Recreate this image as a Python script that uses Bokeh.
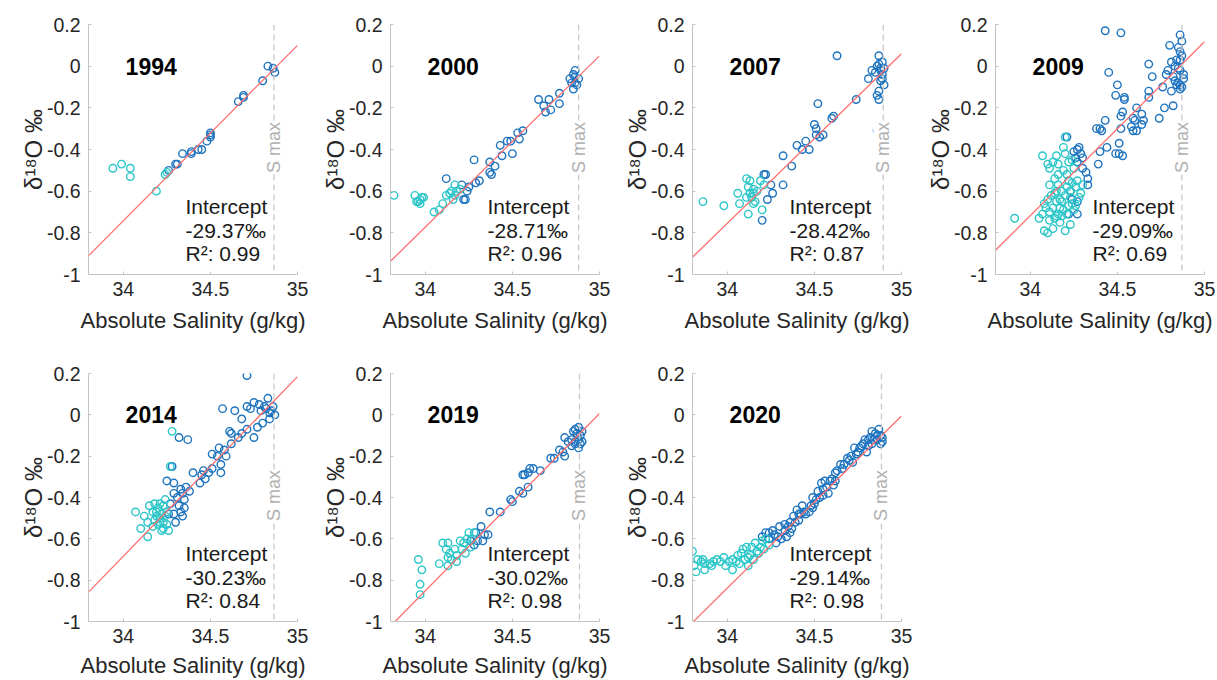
import numpy as np
from bokeh.plotting import figure
from bokeh.models import Span, Label, FixedTicker, CustomJSTickFormatter, Range1d
from bokeh.layouts import column, row
from bokeh.embed import file_html
from bokeh.resources import INLINE

# ---------------- data ----------------
years = ["1994", "2000", "2007", "2009", "2014", "2019", "2020"]
intercepts = [-29.37, -28.71, -28.42, -29.09, -30.23, -30.02, -29.14]
slopes = [0.842, 0.8217, 0.8137, 0.8345, 0.869, 0.8579, 0.8324]
r2 = [0.99, 0.96, 0.87, 0.69, 0.84, 0.98, 0.98]
s_max = [34.865, 34.88, 34.895, 34.87, 34.865, 34.885, 34.885]
x_ticks = [34, 34.5, 35]
y_ticks = [-1, -0.8, -0.6, -0.4, -0.2, 0, 0.2]

cyan_1994 = [(33.94, -0.49), (33.99, -0.47), (34.04, -0.49), (34.04, -0.53), (34.19, -0.60), (34.24, -0.52), (34.25, -0.51)]
blue_1994 = [(34.26, -0.50), (34.30, -0.47), (34.31, -0.47), (34.34, -0.42), (34.39, -0.41), (34.39, -0.42), (34.43, -0.40),
             (34.45, -0.40), (34.48, -0.36), (34.50, -0.32), (34.50, -0.33), (34.50, -0.34), (34.66, -0.17), (34.69, -0.14),
             (34.69, -0.15), (34.80, -0.07), (34.83, 0.00), (34.86, -0.01), (34.87, -0.03)]

cyan_2000 = [(33.82, -0.62), (33.94, -0.62), (33.95, -0.65), (33.96, -0.65), (33.97, -0.66), (33.98, -0.63), (33.99, -0.63),
             (33.97, -0.64), (34.05, -0.70), (34.08, -0.69), (34.10, -0.66), (34.12, -0.62), (34.14, -0.61), (34.15, -0.60),
             (34.16, -0.64), (34.17, -0.57), (34.18, -0.60), (34.20, -0.59), (34.17, -0.62)]
blue_2000 = [(34.12, -0.54), (34.21, -0.57), (34.22, -0.64), (34.23, -0.64), (34.24, -0.60), (34.25, -0.58), (34.28, -0.45),
             (34.29, -0.56), (34.31, -0.55), (34.37, -0.46), (34.37, -0.51), (34.38, -0.52), (34.40, -0.48), (34.43, -0.38),
             (34.44, -0.43), (34.47, -0.36), (34.49, -0.36), (34.50, -0.42), (34.53, -0.32), (34.54, -0.35), (34.56, -0.31),
             (34.65, -0.16), (34.68, -0.19), (34.69, -0.22), (34.71, -0.16), (34.72, -0.21), (34.77, -0.13), (34.77, -0.18),
             (34.83, -0.06), (34.84, -0.08), (34.85, -0.04), (34.85, -0.11), (34.86, -0.08), (34.86, -0.02), (34.86, -0.05),
             (34.87, -0.09), (34.88, -0.06)]

cyan_2007 = [(33.86, -0.65), (33.98, -0.67), (34.06, -0.61), (34.07, -0.66), (34.11, -0.54), (34.11, -0.63), (34.12, -0.71),
             (34.12, -0.58), (34.13, -0.61), (34.13, -0.55), (34.14, -0.63), (34.15, -0.59), (34.15, -0.61), (34.15, -0.66),
             (34.16, -0.65), (34.17, -0.60), (34.19, -0.55), (34.20, -0.69), (34.21, -0.57)]
blue_2007 = [(34.20, -0.74), (34.21, -0.52), (34.22, -0.52), (34.23, -0.64), (34.25, -0.57), (34.26, -0.61), (34.32, -0.57),
             (34.32, -0.43), (34.37, -0.48), (34.40, -0.38), (34.43, -0.40), (34.45, -0.36), (34.47, -0.40), (34.50, -0.28),
             (34.51, -0.30), (34.51, -0.33), (34.52, -0.18), (34.53, -0.34), (34.55, -0.33), (34.60, -0.25), (34.61, -0.24),
             (34.63, 0.05), (34.74, -0.16), (34.81, -0.06), (34.83, -0.02), (34.85, -0.03), (34.86, -0.31), (34.86, -0.14),
             (34.87, 0.05), (34.87, -0.12), (34.87, -0.16), (34.86, 0.00), (34.87, 0.01), (34.88, -0.01), (34.88, -0.02),
             (34.89, -0.04), (34.89, 0.02), (34.89, -0.06), (34.90, -0.09), (34.90, -0.01), (34.88, -0.07)]

cyan_2009 = [(33.91, -0.73), (34.07, -0.43), (34.10, -0.47), (34.11, -0.49), (34.11, -0.57), (34.08, -0.66), (34.05, -0.73),
             (34.08, -0.79), (34.10, -0.80), (34.13, -0.78), (34.15, -0.43), (34.16, -0.52), (34.14, -0.61), (34.16, -0.71),
             (34.17, -0.75), (34.20, -0.79), (34.18, -0.65), (34.19, -0.39), (34.20, -0.34), (34.20, -0.42), (34.21, -0.52),
             (34.22, -0.46), (34.23, -0.60), (34.24, -0.56), (34.24, -0.66), (34.25, -0.69), (34.26, -0.58), (34.28, -0.63),
             (34.29, -0.61), (34.30, -0.57), (34.13, -0.68), (34.11, -0.70), (34.15, -0.65), (34.15, -0.72), (34.17, -0.68),
             (34.19, -0.69), (34.21, -0.71), (34.22, -0.67), (34.14, -0.73), (34.07, -0.71), (34.11, -0.74), (34.25, -0.49),
             (34.14, -0.54), (34.16, -0.57), (34.20, -0.62), (34.23, -0.63), (34.12, -0.62), (34.18, -0.60), (34.09, -0.68),
             (34.17, -0.64), (34.22, -0.55), (34.19, -0.50), (34.13, -0.46), (34.24, -0.45), (34.21, -0.58), (34.18, -0.72),
             (34.10, -0.64), (34.15, -0.60), (34.27, -0.55), (34.26, -0.67), (34.23, -0.76), (34.16, -0.47)]
blue_2009 = [(34.43, 0.17), (34.52, 0.16), (34.86, 0.15), (34.87, 0.12), (34.80, 0.10), (34.85, 0.09), (34.68, 0.01),
             (34.81, 0.02), (34.84, 0.03), (34.86, 0.03), (34.83, 0.00), (34.79, -0.02), (34.85, -0.01), (34.86, -0.02),
             (34.45, -0.03), (34.70, -0.05), (34.78, -0.04), (34.82, -0.05), (34.83, -0.07), (34.85, -0.08), (34.86, -0.09),
             (34.86, -0.11), (34.84, -0.09), (34.50, -0.09), (34.76, -0.10), (34.81, -0.12), (34.68, -0.12), (34.49, -0.14),
             (34.54, -0.16), (34.54, -0.15), (34.68, -0.15), (34.61, -0.20), (34.82, -0.19), (34.77, -0.20), (34.53, -0.22),
             (34.52, -0.24), (34.64, -0.23), (34.65, -0.26), (34.59, -0.25), (34.60, -0.26), (34.74, -0.25), (34.43, -0.26),
             (34.38, -0.30), (34.40, -0.30), (34.41, -0.31), (34.52, -0.30), (34.58, -0.29), (34.59, -0.31), (34.61, -0.31),
             (34.64, -0.28), (34.21, -0.34), (34.44, -0.39), (34.49, -0.42), (34.51, -0.37), (34.51, -0.42), (34.53, -0.43),
             (34.40, -0.41), (34.39, -0.47), (34.87, -0.10), (34.88, -0.06), (34.87, 0.05), (34.88, -0.04), (34.86, 0.07),
             (34.29, -0.42), (34.30, -0.44), (34.30, -0.49), (34.28, -0.39), (34.27, -0.40), (34.26, -0.44), (34.27, -0.46),
             (34.25, -0.41), (34.33, -0.54), (34.33, -0.57), (34.27, -0.65), (34.27, -0.71), (34.23, -0.60), (34.22, -0.71),
             (34.24, -0.64), (34.32, -0.51)]

cyan_2014 = [(34.28, -0.08), (34.27, -0.25), (34.07, -0.47), (34.10, -0.55), (34.12, -0.49), (34.14, -0.59), (34.15, -0.44),
             (34.17, -0.47), (34.18, -0.51), (34.20, -0.53), (34.21, -0.43), (34.22, -0.48), (34.23, -0.52), (34.23, -0.44),
             (34.24, -0.49), (34.25, -0.53), (34.26, -0.56), (34.18, -0.43), (34.20, -0.45), (34.22, -0.56), (34.17, -0.54),
             (34.14, -0.52), (34.24, -0.41), (34.23, -0.55), (34.19, -0.49), (34.21, -0.52), (34.19, -0.47), (34.25, -0.47),
             (34.21, -0.50)]
blue_2014 = [(34.71, 0.19), (34.57, 0.03), (34.64, 0.02), (34.68, -0.02), (34.71, 0.04), (34.75, 0.06), (34.78, 0.05),
             (34.83, 0.08), (34.81, 0.04), (34.85, 0.02), (34.87, 0.00), (34.86, 0.04), (34.84, -0.02), (34.80, -0.04),
             (34.77, -0.06), (34.75, -0.11), (34.71, -0.07), (34.68, -0.09), (34.66, -0.11), (34.62, -0.09), (34.62, -0.14),
             (34.61, -0.08), (34.58, -0.17), (34.55, -0.16), (34.54, -0.20), (34.59, -0.20), (34.51, -0.19), (34.56, -0.24),
             (34.56, -0.28), (34.51, -0.26), (34.49, -0.28), (34.46, -0.27), (34.45, -0.29), (34.47, -0.31), (34.44, -0.33),
             (34.40, -0.28), (34.37, -0.12), (34.32, -0.11), (34.28, -0.25), (34.25, -0.32), (34.29, -0.33), (34.33, -0.36),
             (34.36, -0.35), (34.38, -0.37), (34.34, -0.38), (34.29, -0.38), (34.31, -0.40), (34.35, -0.41), (34.35, -0.45),
             (34.34, -0.49), (34.30, -0.52), (34.29, -0.48), (34.32, -0.44), (34.27, -0.43), (34.26, -0.48), (34.33, -0.47),
             (34.82, 0.03), (34.84, 0.01), (34.79, 0.02), (34.73, 0.03)]

cyan_2019 = [(33.96, -0.70), (33.98, -0.75), (33.97, -0.82), (33.97, -0.87), (34.08, -0.72), (34.10, -0.62), (34.12, -0.65),
             (34.13, -0.69), (34.13, -0.62), (34.14, -0.67), (34.15, -0.70), (34.17, -0.65), (34.18, -0.68), (34.20, -0.61),
             (34.21, -0.65), (34.22, -0.62), (34.23, -0.67), (34.24, -0.60), (34.25, -0.57), (34.26, -0.64), (34.27, -0.60),
             (34.28, -0.57), (34.18, -0.71), (34.13, -0.73)]
blue_2019 = [(34.26, -0.61), (34.28, -0.63), (34.29, -0.57), (34.30, -0.61), (34.32, -0.54), (34.33, -0.61), (34.34, -0.58),
             (34.36, -0.58), (34.37, -0.47), (34.43, -0.47), (34.49, -0.41), (34.50, -0.42), (34.54, -0.37), (34.56, -0.38),
             (34.56, -0.29), (34.57, -0.29), (34.59, -0.28), (34.60, -0.26), (34.62, -0.26), (34.59, -0.35), (34.66, -0.27),
             (34.72, -0.21), (34.74, -0.21), (34.77, -0.17), (34.79, -0.18), (34.80, -0.20), (34.80, -0.11), (34.82, -0.13),
             (34.84, -0.12), (34.85, -0.08), (34.86, -0.13), (34.86, -0.07), (34.87, -0.09), (34.88, -0.12), (34.88, -0.06),
             (34.89, -0.10), (34.90, -0.13), (34.89, -0.14), (34.86, -0.14), (34.84, -0.15), (34.88, -0.16), (34.90, -0.08)]

cyan_2020 = [(33.80, -0.66), (33.81, -0.73), (33.82, -0.76), (33.83, -0.70), (33.85, -0.71), (33.86, -0.70), (33.87, -0.75),
             (33.90, -0.72), (33.91, -0.73), (33.92, -0.71), (33.94, -0.70), (33.96, -0.71), (33.98, -0.69), (34.03, -0.70),
             (34.03, -0.75), (34.05, -0.71), (34.06, -0.68), (34.07, -0.72), (34.08, -0.67), (34.10, -0.70), (34.11, -0.64),
             (34.12, -0.73), (34.13, -0.68), (34.14, -0.64), (34.15, -0.70), (34.16, -0.62), (34.18, -0.67), (34.19, -0.64),
             (34.20, -0.61), (34.21, -0.65), (34.22, -0.60), (34.09, -0.65), (34.17, -0.66), (34.12, -0.69), (34.24, -0.63),
             (33.87, -0.72), (33.99, -0.73), (34.01, -0.71)]
blue_2020 = [(34.20, -0.59), (34.22, -0.57), (34.24, -0.60), (34.24, -0.57), (34.26, -0.56), (34.28, -0.62), (34.29, -0.59),
             (34.30, -0.54), (34.31, -0.60), (34.33, -0.56), (34.34, -0.59), (34.35, -0.54), (34.36, -0.52), (34.37, -0.55),
             (34.38, -0.49), (34.39, -0.52), (34.40, -0.46), (34.41, -0.51), (34.42, -0.48), (34.43, -0.44), (34.45, -0.48),
             (34.47, -0.47), (34.48, -0.44), (34.49, -0.40), (34.50, -0.43), (34.52, -0.37), (34.53, -0.40), (34.54, -0.33),
             (34.55, -0.36), (34.56, -0.32), (34.58, -0.38), (34.59, -0.32), (34.60, -0.31), (34.62, -0.32), (34.63, -0.27),
             (34.65, -0.24), (34.67, -0.24), (34.69, -0.21), (34.71, -0.20), (34.73, -0.16), (34.74, -0.19), (34.76, -0.16),
             (34.78, -0.14), (34.79, -0.12), (34.81, -0.15), (34.82, -0.11), (34.83, -0.08), (34.84, -0.12), (34.85, -0.09),
             (34.86, -0.12), (34.87, -0.07), (34.88, -0.10), (34.89, -0.13), (34.89, -0.11), (34.83, -0.14), (34.80, -0.18),
             (34.72, -0.23), (34.62, -0.28), (34.55, -0.39), (34.49, -0.45), (34.41, -0.48), (34.36, -0.57), (34.27, -0.58),
             (34.33, -0.53), (34.44, -0.47), (34.51, -0.41), (34.57, -0.35), (34.61, -0.34), (34.66, -0.26), (34.70, -0.22),
             (34.75, -0.18), (34.77, -0.15), (34.81, -0.12), (34.86, -0.10), (34.88, -0.14)]

cyan_sets = [cyan_1994, cyan_2000, cyan_2007, cyan_2009, cyan_2014, cyan_2019, cyan_2020]
blue_sets = [blue_1994, blue_2000, blue_2007, blue_2009, blue_2014, blue_2019, blue_2020]

# ---------------- style ----------------
FONT = "Liberation Sans"
CYAN = "#2cc6c8"
BLUE = "#1f74bf"
RED = "#ff6e6e"
AXIS_GREY = "#c4c4c4"
TEXT_DARK = "#262626"

# per-column geometry (figure width, left border) so every frame is 209 px wide
COL_W = [310, 302, 302, 303]
COL_L = [88, 80, 80, 81]


def make_panel(i, top):
    col = i % 4
    p = figure(width=COL_W[col], height=340 if top else 340,
               x_range=Range1d(33.8, 35.0), y_range=Range1d(-1.0, 0.2),
               output_backend="svg", toolbar_location=None, tools="",
               min_border_left=COL_L[col], min_border_right=13,
               min_border_top=24 if top else 33,
               min_border_bottom=66 if top else 57)
    p.outline_line_color = None
    p.xgrid.visible = False
    p.ygrid.visible = False
    p.background_fill_color = "white"
    p.border_fill_color = "white"

    for ax in (p.xaxis[0], p.yaxis[0]):
        ax.axis_line_color = AXIS_GREY
        ax.axis_line_width = 1
        ax.major_tick_line_color = AXIS_GREY
        ax.major_tick_in = 3
        ax.major_tick_out = 0
        ax.minor_tick_line_color = None
        ax.major_label_text_font = FONT
        ax.major_label_text_font_size = "19.5px"
        ax.major_label_text_color = TEXT_DARK
        ax.axis_label_text_font = FONT
        ax.axis_label_text_font_style = "normal"
        ax.axis_label_text_color = TEXT_DARK
        ax.formatter = CustomJSTickFormatter(code="return String(tick);")
    p.xaxis.axis_label_text_font_size = "22px"
    p.yaxis.axis_label_text_font_size = "24px"
    p.xaxis.ticker = FixedTicker(ticks=x_ticks)
    p.yaxis.ticker = FixedTicker(ticks=y_ticks)
    p.xaxis.axis_label = "Absolute Salinity (g/kg)"
    p.yaxis.axis_label = "δ¹⁸O ‰"
    p.xaxis.major_label_standoff = 7
    p.yaxis.major_label_standoff = 8
    p.xaxis.axis_label_standoff = 9 if top else 7
    p.yaxis.axis_label_standoff = -3

    # S max dashed line + label
    p.add_layout(Span(location=s_max[i], dimension="height", line_color="#c8c8c8",
                      line_dash="6 4", line_width=1.3))
    p.add_layout(Label(x=s_max[i], y=-0.39, text="S max", angle=90, angle_units="deg",
                       text_align="center", text_baseline="middle", text_color="#b0b0b0",
                       text_font=FONT, text_font_size="18px",
                       background_fill_color="white", background_fill_alpha=1.0))

    # points
    bx = [v[0] for v in blue_sets[i]]
    by = [v[1] for v in blue_sets[i]]
    cx = [v[0] for v in cyan_sets[i]]
    cy = [v[1] for v in cyan_sets[i]]
    p.scatter(bx, by, marker="circle", size=7.5, fill_color=None, line_color=BLUE, line_width=1.4)
    p.scatter(cx, cy, marker="circle", size=7.5, fill_color=None, line_color=CYAN, line_width=1.4)

    # regression line
    xs = np.array([33.8, 35.0])
    ys = slopes[i] * xs + intercepts[i]
    p.line(xs, ys, line_color=RED, line_width=1.3)

    # year label
    p.add_layout(Label(x=34.16, y=0.0, text=years[i], text_align="center", text_baseline="middle",
                       text_font=FONT, text_font_size="23px", text_font_style="bold", text_color="black"))

    # regression text
    lines = ["Intercept", f"{intercepts[i]:.2f}‰", f"R²: {r2[i]:.2f}"]
    for t, yy in zip(lines, [-0.672, -0.787, -0.9]):
        p.add_layout(Label(x=34.357, y=yy, text=t, text_align="left", text_baseline="middle",
                           text_font=FONT, text_font_size="21px", text_color="#1a1a1a"))
    return p


panels = [make_panel(i, i < 4) for i in range(7)]
layout = column(row(*panels[:4]), row(*panels[4:]))

open("out.html", "w").write(file_html(layout, INLINE, "delta18O vs salinity"))
